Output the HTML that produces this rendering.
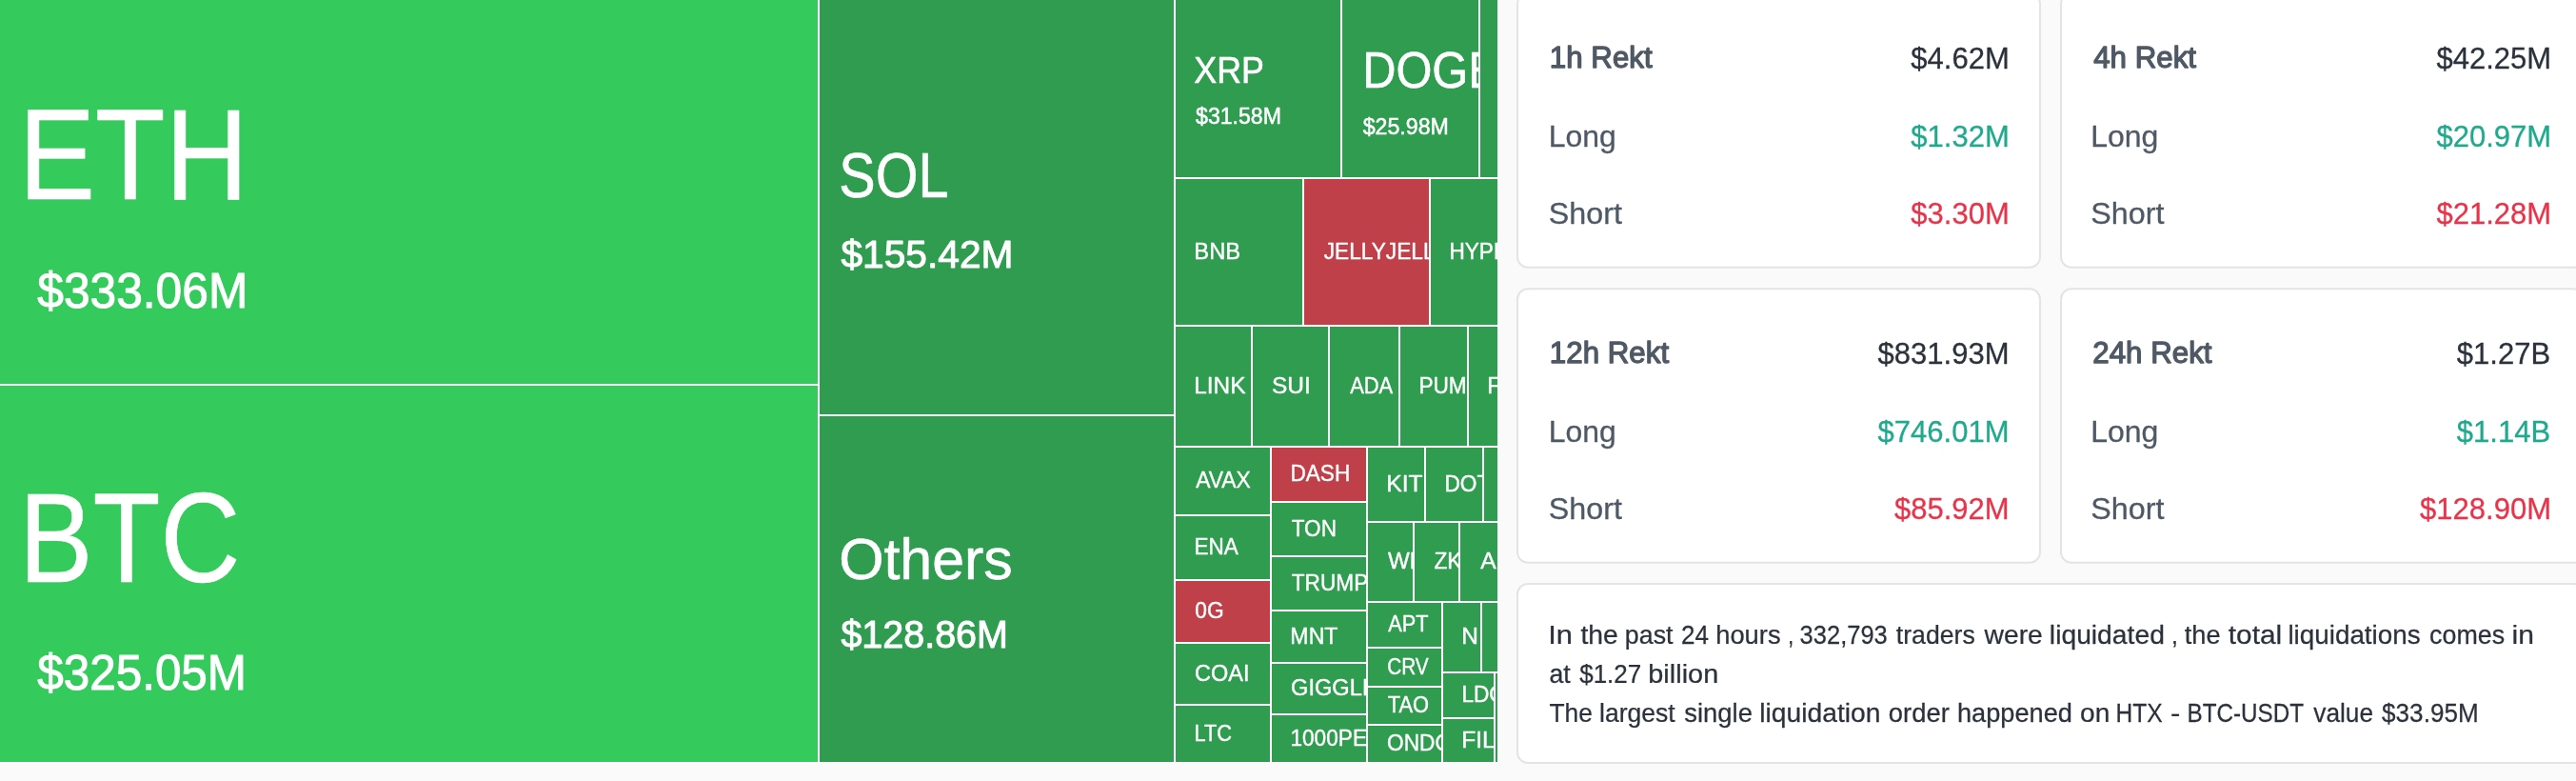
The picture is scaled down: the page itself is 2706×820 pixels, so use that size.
<!DOCTYPE html>
<html><head><meta charset="utf-8"><style>
html,body{margin:0;padding:0;background:#fafafa;width:2706px;height:820px;overflow:hidden}
svg text{font-family:"Liberation Sans",sans-serif}
</style></head><body>
<svg width="2706" height="820" viewBox="0 0 2706 820" style="display:block;will-change:transform;font-family:'Liberation Sans',sans-serif">
<rect x="0" y="0" width="2706" height="820" fill="#fafafa"/>
<rect x="0" y="0" width="1573" height="801" fill="#fff"/>
<svg x="0" y="0" width="859" height="403" viewBox="0 0 859 403" overflow="hidden"><rect x="0" y="0" width="859" height="403" fill="#34cb5c"/><text transform="translate(19.66,208.60) scale(0.8934,1)" font-size="134.93" fill="#fff" stroke="#fff" stroke-width="0.60" stroke-linejoin="round">ETH</text><text transform="translate(39.30,323.00) scale(0.9447,1)" font-size="52.61" fill="#fff" stroke="#fff" stroke-width="1.00" stroke-linejoin="round">$333.06M</text></svg>
<svg x="0" y="405" width="859" height="395" viewBox="0 405 859 395" overflow="hidden"><rect x="0" y="405" width="859" height="395" fill="#34cb5c"/><text transform="translate(20.01,610.60) scale(0.8732,1)" font-size="133.04" fill="#fff" stroke="#fff" stroke-width="0.60" stroke-linejoin="round">BTC</text><text transform="translate(39.31,723.70) scale(0.9602,1)" font-size="51.45" fill="#fff" stroke="#fff" stroke-width="1.00" stroke-linejoin="round">$325.05M</text></svg>
<svg x="861" y="0" width="372" height="435" viewBox="861 0 372 435" overflow="hidden"><rect x="861" y="0" width="372" height="435" fill="#2f9c50"/><text transform="translate(881.32,206.90) scale(0.8728,1)" font-size="65.94" fill="#fff" stroke="#fff" stroke-width="0.60" stroke-linejoin="round">SOL</text><text transform="translate(883.39,281.20) scale(0.9862,1)" font-size="41.30" fill="#fff" stroke="#fff" stroke-width="1.00" stroke-linejoin="round">$155.42M</text></svg>
<svg x="861" y="437" width="372" height="363" viewBox="861 437 372 363" overflow="hidden"><rect x="861" y="437" width="372" height="363" fill="#2f9c50"/><text transform="translate(881.16,608.30) scale(0.9898,1)" font-size="61.45" fill="#fff" stroke="#fff" stroke-width="0.60" stroke-linejoin="round">Others</text><text transform="translate(883.41,680.40) scale(0.9832,1)" font-size="40.14" fill="#fff" stroke="#fff" stroke-width="1.00" stroke-linejoin="round">$128.86M</text></svg>
<svg x="1235" y="0" width="173" height="186" viewBox="1235 0 173 186" overflow="hidden"><rect x="1235" y="0" width="173" height="186" fill="#2f9c50"/><text transform="translate(1254.32,86.60) scale(0.9158,1)" font-size="39.13" fill="#fff" stroke="#fff" stroke-width="0.60" stroke-linejoin="round">XRP</text><text transform="translate(1256.02,130.25) scale(0.9732,1)" font-size="23.77" fill="#fff" stroke="#fff" stroke-width="0.50" stroke-linejoin="round">$31.58M</text></svg>
<svg x="1410" y="0" width="143" height="186" viewBox="1410 0 143 186" overflow="hidden"><rect x="1410" y="0" width="143" height="186" fill="#2f9c50"/><text transform="translate(1431.20,91.80) scale(0.9000,1)" font-size="54.20" fill="#fff" stroke="#fff" stroke-width="0.60" stroke-linejoin="round">DOGE</text><text transform="translate(1431.72,141.15) scale(0.9695,1)" font-size="23.91" fill="#fff" stroke="#fff" stroke-width="0.50" stroke-linejoin="round">$25.98M</text></svg>
<svg x="1555" y="0" width="18" height="186" viewBox="1555 0 18 186" overflow="hidden"><rect x="1555" y="0" width="18" height="186" fill="#2f9c50"/></svg>
<svg x="1235" y="188" width="133" height="153" viewBox="1235 188 133 153" overflow="hidden"><rect x="1235" y="188" width="133" height="153" fill="#2f9c50"/><text transform="translate(1254.30,271.90) scale(1.0076,1)" font-size="23.62" fill="#fff" stroke="#fff" stroke-width="0.40" stroke-linejoin="round">BNB</text></svg>
<svg x="1370" y="188" width="131" height="153" viewBox="1370 188 131 153" overflow="hidden"><rect x="1370" y="188" width="131" height="153" fill="#bf4049"/><text transform="translate(1390.75,271.90) scale(0.9600,1)" font-size="23.62" fill="#fff" stroke="#fff" stroke-width="0.40" stroke-linejoin="round">JELLYJELLY</text></svg>
<svg x="1503" y="188" width="70" height="153" viewBox="1503 188 70 153" overflow="hidden"><rect x="1503" y="188" width="70" height="153" fill="#2f9c50"/><text transform="translate(1522.39,271.90) scale(0.9600,1)" font-size="23.62" fill="#fff" stroke="#fff" stroke-width="0.40" stroke-linejoin="round">HYPE</text></svg>
<svg x="1235" y="343" width="79" height="125" viewBox="1235 343 79 125" overflow="hidden"><rect x="1235" y="343" width="79" height="125" fill="#2f9c50"/><text transform="translate(1254.25,412.90) scale(1.0315,1)" font-size="23.62" fill="#fff" stroke="#fff" stroke-width="0.40" stroke-linejoin="round">LINK</text></svg>
<svg x="1316" y="343" width="79" height="125" viewBox="1316 343 79 125" overflow="hidden"><rect x="1316" y="343" width="79" height="125" fill="#2f9c50"/><text transform="translate(1335.97,412.90) scale(1.0375,1)" font-size="23.62" fill="#fff" stroke="#fff" stroke-width="0.40" stroke-linejoin="round">SUI</text></svg>
<svg x="1397" y="343" width="72" height="125" viewBox="1397 343 72 125" overflow="hidden"><rect x="1397" y="343" width="72" height="125" fill="#2f9c50"/><text transform="translate(1418.20,412.90) scale(0.9272,1)" font-size="23.62" fill="#fff" stroke="#fff" stroke-width="0.40" stroke-linejoin="round">ADA</text></svg>
<svg x="1471" y="343" width="70" height="125" viewBox="1471 343 70 125" overflow="hidden"><rect x="1471" y="343" width="70" height="125" fill="#2f9c50"/><text transform="translate(1490.39,412.90) scale(0.9600,1)" font-size="23.62" fill="#fff" stroke="#fff" stroke-width="0.40" stroke-linejoin="round">PUMP</text></svg>
<svg x="1543" y="343" width="30" height="125" viewBox="1543 343 30 125" overflow="hidden"><rect x="1543" y="343" width="30" height="125" fill="#2f9c50"/><text transform="translate(1562.33,412.90) scale(0.9912,1)" font-size="23.62" fill="#fff" stroke="#fff" stroke-width="0.40" stroke-linejoin="round">FARTCOIN</text></svg>
<svg x="1235" y="470" width="99" height="70" viewBox="1235 470 99 70" overflow="hidden"><rect x="1235" y="470" width="99" height="70" fill="#2f9c50"/><text transform="translate(1256.20,512.40) scale(0.9690,1)" font-size="23.62" fill="#fff" stroke="#fff" stroke-width="0.40" stroke-linejoin="round">AVAX</text></svg>
<svg x="1235" y="542" width="99" height="66" viewBox="1235 542 99 66" overflow="hidden"><rect x="1235" y="542" width="99" height="66" fill="#2f9c50"/><text transform="translate(1254.40,582.40) scale(0.9541,1)" font-size="23.62" fill="#fff" stroke="#fff" stroke-width="0.40" stroke-linejoin="round">ENA</text></svg>
<svg x="1235" y="610" width="99" height="64" viewBox="1235 610 99 64" overflow="hidden"><rect x="1235" y="610" width="99" height="64" fill="#bf4049"/><text transform="translate(1255.29,649.40) scale(0.9646,1)" font-size="23.62" fill="#fff" stroke="#fff" stroke-width="0.40" stroke-linejoin="round">0G</text></svg>
<svg x="1235" y="676" width="99" height="63" viewBox="1235 676 99 63" overflow="hidden"><rect x="1235" y="676" width="99" height="63" fill="#2f9c50"/><text transform="translate(1255.02,714.90) scale(0.9957,1)" font-size="23.62" fill="#fff" stroke="#fff" stroke-width="0.40" stroke-linejoin="round">COAI</text></svg>
<svg x="1235" y="741" width="99" height="59" viewBox="1235 741 99 59" overflow="hidden"><rect x="1235" y="741" width="99" height="59" fill="#2f9c50"/><text transform="translate(1254.46,777.90) scale(0.9218,1)" font-size="23.62" fill="#fff" stroke="#fff" stroke-width="0.40" stroke-linejoin="round">LTC</text></svg>
<svg x="1336" y="470" width="99" height="56" viewBox="1336 470 99 56" overflow="hidden"><rect x="1336" y="470" width="99" height="56" fill="#bf4049"/><text transform="translate(1355.39,505.40) scale(0.9581,1)" font-size="23.62" fill="#fff" stroke="#fff" stroke-width="0.40" stroke-linejoin="round">DASH</text></svg>
<svg x="1336" y="528" width="99" height="55" viewBox="1336 528 99 55" overflow="hidden"><rect x="1336" y="528" width="99" height="55" fill="#2f9c50"/><text transform="translate(1356.75,562.90) scale(0.9551,1)" font-size="23.62" fill="#fff" stroke="#fff" stroke-width="0.40" stroke-linejoin="round">TON</text></svg>
<svg x="1336" y="585" width="99" height="55" viewBox="1336 585 99 55" overflow="hidden"><rect x="1336" y="585" width="99" height="55" fill="#2f9c50"/><text transform="translate(1356.75,619.90) scale(0.9600,1)" font-size="23.62" fill="#fff" stroke="#fff" stroke-width="0.40" stroke-linejoin="round">TRUMP</text></svg>
<svg x="1336" y="642" width="99" height="53" viewBox="1336 642 99 53" overflow="hidden"><rect x="1336" y="642" width="99" height="53" fill="#2f9c50"/><text transform="translate(1355.35,675.90) scale(0.9802,1)" font-size="23.62" fill="#fff" stroke="#fff" stroke-width="0.40" stroke-linejoin="round">MNT</text></svg>
<svg x="1336" y="697" width="99" height="52" viewBox="1336 697 99 52" overflow="hidden"><rect x="1336" y="697" width="99" height="52" fill="#2f9c50"/><text transform="translate(1356.02,730.40) scale(1.0017,1)" font-size="23.62" fill="#fff" stroke="#fff" stroke-width="0.40" stroke-linejoin="round">GIGGLE</text></svg>
<svg x="1336" y="751" width="99" height="49" viewBox="1336 751 99 49" overflow="hidden"><rect x="1336" y="751" width="99" height="49" fill="#2f9c50"/><text transform="translate(1355.39,782.90) scale(0.9600,1)" font-size="23.62" fill="#fff" stroke="#fff" stroke-width="0.40" stroke-linejoin="round">1000PEPE</text></svg>
<svg x="1437" y="470" width="59" height="77" viewBox="1437 470 59 77" overflow="hidden"><rect x="1437" y="470" width="59" height="77" fill="#2f9c50"/><text transform="translate(1456.23,515.90) scale(1.0433,1)" font-size="23.62" fill="#fff" stroke="#fff" stroke-width="0.40" stroke-linejoin="round">KIT</text></svg>
<svg x="1498" y="470" width="59" height="77" viewBox="1498 470 59 77" overflow="hidden"><rect x="1498" y="470" width="59" height="77" fill="#2f9c50"/><text transform="translate(1517.39,515.90) scale(0.9600,1)" font-size="23.62" fill="#fff" stroke="#fff" stroke-width="0.40" stroke-linejoin="round">DOT</text></svg>
<svg x="1559" y="470" width="14" height="77" viewBox="1559 470 14 77" overflow="hidden"><rect x="1559" y="470" width="14" height="77" fill="#2f9c50"/></svg>
<svg x="1437" y="549" width="47" height="82" viewBox="1437 549 47 82" overflow="hidden"><rect x="1437" y="549" width="47" height="82" fill="#2f9c50"/><text transform="translate(1457.96,597.40) scale(1.0225,1)" font-size="23.62" fill="#fff" stroke="#fff" stroke-width="0.40" stroke-linejoin="round">WLFI</text></svg>
<svg x="1486" y="549" width="46" height="82" viewBox="1486 549 46 82" overflow="hidden"><rect x="1486" y="549" width="46" height="82" fill="#2f9c50"/><text transform="translate(1506.52,597.40) scale(0.9600,1)" font-size="23.62" fill="#fff" stroke="#fff" stroke-width="0.40" stroke-linejoin="round">ZKC</text></svg>
<svg x="1534" y="549" width="39" height="82" viewBox="1534 549 39 82" overflow="hidden"><rect x="1534" y="549" width="39" height="82" fill="#2f9c50"/><text transform="translate(1555.20,597.40) scale(1.0433,1)" font-size="23.62" fill="#fff" stroke="#fff" stroke-width="0.40" stroke-linejoin="round">AIA</text></svg>
<svg x="1437" y="633" width="77" height="46" viewBox="1437 633 77 46" overflow="hidden"><rect x="1437" y="633" width="77" height="46" fill="#2f9c50"/><text transform="translate(1458.20,663.40) scale(0.9216,1)" font-size="23.62" fill="#fff" stroke="#fff" stroke-width="0.40" stroke-linejoin="round">APT</text></svg>
<svg x="1437" y="681" width="77" height="39" viewBox="1437 681 77 39" overflow="hidden"><rect x="1437" y="681" width="77" height="39" fill="#2f9c50"/><text transform="translate(1457.16,707.90) scale(0.8798,1)" font-size="23.62" fill="#fff" stroke="#fff" stroke-width="0.40" stroke-linejoin="round">CRV</text></svg>
<svg x="1437" y="722" width="77" height="38" viewBox="1437 722 77 38" overflow="hidden"><rect x="1437" y="722" width="77" height="38" fill="#2f9c50"/><text transform="translate(1457.76,748.40) scale(0.9264,1)" font-size="23.62" fill="#fff" stroke="#fff" stroke-width="0.40" stroke-linejoin="round">TAO</text></svg>
<svg x="1437" y="762" width="77" height="38" viewBox="1437 762 77 38" overflow="hidden"><rect x="1437" y="762" width="77" height="38" fill="#2f9c50"/><text transform="translate(1457.07,788.40) scale(0.9600,1)" font-size="23.62" fill="#fff" stroke="#fff" stroke-width="0.40" stroke-linejoin="round">ONDO</text></svg>
<svg x="1516" y="633" width="39" height="72" viewBox="1516 633 39 72" overflow="hidden"><rect x="1516" y="633" width="39" height="72" fill="#2f9c50"/><text transform="translate(1535.24,676.40) scale(1.0356,1)" font-size="23.62" fill="#fff" stroke="#fff" stroke-width="0.40" stroke-linejoin="round">N</text></svg>
<svg x="1557" y="633" width="16" height="72" viewBox="1557 633 16 72" overflow="hidden"><rect x="1557" y="633" width="16" height="72" fill="#2f9c50"/></svg>
<svg x="1516" y="707" width="53" height="46" viewBox="1516 707 53 46" overflow="hidden"><rect x="1516" y="707" width="53" height="46" fill="#2f9c50"/><text transform="translate(1535.39,737.40) scale(0.9600,1)" font-size="23.62" fill="#fff" stroke="#fff" stroke-width="0.40" stroke-linejoin="round">LDO</text></svg>
<svg x="1516" y="755" width="53" height="45" viewBox="1516 755 53 45" overflow="hidden"><rect x="1516" y="755" width="53" height="45" fill="#2f9c50"/><text transform="translate(1535.23,784.90) scale(1.0433,1)" font-size="23.62" fill="#fff" stroke="#fff" stroke-width="0.40" stroke-linejoin="round">FIL</text></svg>
<svg x="1571" y="707" width="2" height="93" viewBox="1571 707 2 93" overflow="hidden"><rect x="1571" y="707" width="2" height="93" fill="#2f9c50"/></svg>
<rect x="1594.0" y="-6.7" width="549" height="287.5" rx="11" ry="11" fill="#fff" stroke="#e4e4e4" stroke-width="2"/>
<text transform="translate(1627.85,71.25) scale(1.0048,1)" font-size="31.16" fill="#4f5965" stroke="#4f5965" stroke-width="1.30" stroke-linejoin="round">1h Rekt</text>
<text transform="translate(1626.79,153.75) scale(0.9937,1)" font-size="32.17" fill="#4f5965" stroke="#4f5965" stroke-width="0.30" stroke-linejoin="round">Long</text>
<text transform="translate(1626.84,234.95) scale(1.0262,1)" font-size="31.45" fill="#4f5965" stroke="#4f5965" stroke-width="0.30" stroke-linejoin="round">Short</text>
<text transform="translate(2007.34,72.15) scale(0.9863,1)" font-size="31.45" fill="#2b323b" stroke="#2b323b" stroke-width="0.30" stroke-linejoin="round">$4.62M</text>
<text transform="translate(2007.34,153.75) scale(0.9863,1)" font-size="31.45" fill="#1fa98d" stroke="#1fa98d" stroke-width="0.30" stroke-linejoin="round">$1.32M</text>
<text transform="translate(2007.34,235.45) scale(0.9863,1)" font-size="31.45" fill="#e8344a" stroke="#e8344a" stroke-width="0.30" stroke-linejoin="round">$3.30M</text>
<rect x="2165.0" y="-6.7" width="549" height="287.5" rx="11" ry="11" fill="#fff" stroke="#e4e4e4" stroke-width="2"/>
<text transform="translate(2199.22,71.25) scale(1.0048,1)" font-size="31.16" fill="#4f5965" stroke="#4f5965" stroke-width="1.30" stroke-linejoin="round">4h Rekt</text>
<text transform="translate(2196.29,153.75) scale(0.9937,1)" font-size="32.17" fill="#4f5965" stroke="#4f5965" stroke-width="0.30" stroke-linejoin="round">Long</text>
<text transform="translate(2196.34,234.95) scale(1.0262,1)" font-size="31.45" fill="#4f5965" stroke="#4f5965" stroke-width="0.30" stroke-linejoin="round">Short</text>
<text transform="translate(2559.47,72.15) scale(0.9863,1)" font-size="31.45" fill="#2b323b" stroke="#2b323b" stroke-width="0.30" stroke-linejoin="round">$42.25M</text>
<text transform="translate(2559.47,153.75) scale(0.9863,1)" font-size="31.45" fill="#1fa98d" stroke="#1fa98d" stroke-width="0.30" stroke-linejoin="round">$20.97M</text>
<text transform="translate(2559.47,235.45) scale(0.9863,1)" font-size="31.45" fill="#e8344a" stroke="#e8344a" stroke-width="0.30" stroke-linejoin="round">$21.28M</text>
<rect x="1594.0" y="303.3" width="549" height="287.5" rx="11" ry="11" fill="#fff" stroke="#e4e4e4" stroke-width="2"/>
<text transform="translate(1627.85,381.25) scale(1.0048,1)" font-size="31.16" fill="#4f5965" stroke="#4f5965" stroke-width="1.30" stroke-linejoin="round">12h Rekt</text>
<text transform="translate(1626.79,463.75) scale(0.9937,1)" font-size="32.17" fill="#4f5965" stroke="#4f5965" stroke-width="0.30" stroke-linejoin="round">Long</text>
<text transform="translate(1626.84,544.95) scale(1.0262,1)" font-size="31.45" fill="#4f5965" stroke="#4f5965" stroke-width="0.30" stroke-linejoin="round">Short</text>
<text transform="translate(1972.60,382.15) scale(0.9863,1)" font-size="31.45" fill="#2b323b" stroke="#2b323b" stroke-width="0.30" stroke-linejoin="round">$831.93M</text>
<text transform="translate(1972.60,463.75) scale(0.9863,1)" font-size="31.45" fill="#1fa98d" stroke="#1fa98d" stroke-width="0.30" stroke-linejoin="round">$746.01M</text>
<text transform="translate(1989.97,545.45) scale(0.9863,1)" font-size="31.45" fill="#e8344a" stroke="#e8344a" stroke-width="0.30" stroke-linejoin="round">$85.92M</text>
<rect x="2165.0" y="303.3" width="549" height="287.5" rx="11" ry="11" fill="#fff" stroke="#e4e4e4" stroke-width="2"/>
<text transform="translate(2198.28,381.25) scale(1.0048,1)" font-size="31.16" fill="#4f5965" stroke="#4f5965" stroke-width="1.30" stroke-linejoin="round">24h Rekt</text>
<text transform="translate(2196.29,463.75) scale(0.9937,1)" font-size="32.17" fill="#4f5965" stroke="#4f5965" stroke-width="0.30" stroke-linejoin="round">Long</text>
<text transform="translate(2196.34,544.95) scale(1.0262,1)" font-size="31.45" fill="#4f5965" stroke="#4f5965" stroke-width="0.30" stroke-linejoin="round">Short</text>
<text transform="translate(2580.87,382.15) scale(0.9863,1)" font-size="31.45" fill="#2b323b" stroke="#2b323b" stroke-width="0.30" stroke-linejoin="round">$1.27B</text>
<text transform="translate(2580.87,463.75) scale(0.9863,1)" font-size="31.45" fill="#1fa98d" stroke="#1fa98d" stroke-width="0.30" stroke-linejoin="round">$1.14B</text>
<text transform="translate(2542.10,545.45) scale(0.9863,1)" font-size="31.45" fill="#e8344a" stroke="#e8344a" stroke-width="0.30" stroke-linejoin="round">$128.90M</text>
<rect x="1594" y="613" width="1120" height="188" rx="11" ry="11" fill="#fff" stroke="#e4e4e4" stroke-width="2"/>
<text transform="translate(1626.24,675.67) scale(1.1500,1)" font-size="26.88" fill="#2b323b" stroke="#2b323b" stroke-width="0.25" stroke-linejoin="round">In</text>
<text transform="translate(1660.46,675.67) scale(1.0542,1)" font-size="26.88" fill="#2b323b" stroke="#2b323b" stroke-width="0.25" stroke-linejoin="round">the</text>
<text transform="translate(1706.85,675.67) scale(0.9976,1)" font-size="26.88" fill="#2b323b" stroke="#2b323b" stroke-width="0.25" stroke-linejoin="round">past</text>
<text transform="translate(1766.12,675.67) scale(0.9692,1)" font-size="26.88" fill="#2b323b" stroke="#2b323b" stroke-width="0.25" stroke-linejoin="round">24</text>
<text transform="translate(1802.21,675.67) scale(1.0170,1)" font-size="26.88" fill="#2b323b" stroke="#2b323b" stroke-width="0.25" stroke-linejoin="round">hours</text>
<text transform="translate(1878.19,675.67) scale(0.8000,1)" font-size="26.88" fill="#2b323b" stroke="#2b323b" stroke-width="0.25" stroke-linejoin="round">,</text>
<text transform="translate(1890.61,675.67) scale(0.9482,1)" font-size="26.88" fill="#2b323b" stroke="#2b323b" stroke-width="0.25" stroke-linejoin="round">332,793</text>
<text transform="translate(1991.79,675.67) scale(0.9919,1)" font-size="26.88" fill="#2b323b" stroke="#2b323b" stroke-width="0.25" stroke-linejoin="round">traders</text>
<text transform="translate(2084.53,675.67) scale(1.0526,1)" font-size="26.88" fill="#2b323b" stroke="#2b323b" stroke-width="0.25" stroke-linejoin="round">were</text>
<text transform="translate(2152.85,675.67) scale(1.0515,1)" font-size="26.88" fill="#2b323b" stroke="#2b323b" stroke-width="0.25" stroke-linejoin="round">liquidated</text>
<text transform="translate(2281.00,675.67) scale(0.9176,1)" font-size="26.88" fill="#2b323b" stroke="#2b323b" stroke-width="0.25" stroke-linejoin="round">,</text>
<text transform="translate(2294.68,675.67) scale(1.0128,1)" font-size="26.88" fill="#2b323b" stroke="#2b323b" stroke-width="0.25" stroke-linejoin="round">the</text>
<text transform="translate(2340.83,675.67) scale(1.1092,1)" font-size="26.88" fill="#2b323b" stroke="#2b323b" stroke-width="0.25" stroke-linejoin="round">total</text>
<text transform="translate(2403.38,675.67) scale(1.0359,1)" font-size="26.88" fill="#2b323b" stroke="#2b323b" stroke-width="0.25" stroke-linejoin="round">liquidations</text>
<text transform="translate(2552.05,675.67) scale(0.9988,1)" font-size="26.88" fill="#2b323b" stroke="#2b323b" stroke-width="0.25" stroke-linejoin="round">comes</text>
<text transform="translate(2638.62,675.67) scale(1.1183,1)" font-size="26.88" fill="#2b323b" stroke="#2b323b" stroke-width="0.25" stroke-linejoin="round">in</text>
<text transform="translate(1627.46,716.58) scale(0.9942,1)" font-size="26.88" fill="#2b323b" stroke="#2b323b" stroke-width="0.25" stroke-linejoin="round">at</text>
<text transform="translate(1659.16,716.58) scale(0.9687,1)" font-size="26.88" fill="#2b323b" stroke="#2b323b" stroke-width="0.25" stroke-linejoin="round">$1.27</text>
<text transform="translate(1731.30,716.58) scale(1.0753,1)" font-size="26.88" fill="#2b323b" stroke="#2b323b" stroke-width="0.25" stroke-linejoin="round">billion</text>
<text transform="translate(1627.50,757.77) scale(0.9817,1)" font-size="26.88" fill="#2b323b" stroke="#2b323b" stroke-width="0.25" stroke-linejoin="round">The</text>
<text transform="translate(1680.07,757.77) scale(0.9879,1)" font-size="26.88" fill="#2b323b" stroke="#2b323b" stroke-width="0.25" stroke-linejoin="round">largest</text>
<text transform="translate(1769.20,757.77) scale(1.0216,1)" font-size="26.88" fill="#2b323b" stroke="#2b323b" stroke-width="0.25" stroke-linejoin="round">single</text>
<text transform="translate(1848.25,757.77) scale(1.0515,1)" font-size="26.88" fill="#2b323b" stroke="#2b323b" stroke-width="0.25" stroke-linejoin="round">liquidation</text>
<text transform="translate(1983.83,757.77) scale(1.0206,1)" font-size="26.88" fill="#2b323b" stroke="#2b323b" stroke-width="0.25" stroke-linejoin="round">order</text>
<text transform="translate(2055.92,757.77) scale(1.0125,1)" font-size="26.88" fill="#2b323b" stroke="#2b323b" stroke-width="0.25" stroke-linejoin="round">happened</text>
<text transform="translate(2185.10,757.77) scale(1.0466,1)" font-size="26.88" fill="#2b323b" stroke="#2b323b" stroke-width="0.25" stroke-linejoin="round">on</text>
<text transform="translate(2222.56,757.77) scale(0.9146,1)" font-size="26.88" fill="#2b323b" stroke="#2b323b" stroke-width="0.25" stroke-linejoin="round">HTX</text>
<text transform="translate(2279.89,757.77) scale(1.1500,1)" font-size="26.88" fill="#2b323b" stroke="#2b323b" stroke-width="0.25" stroke-linejoin="round">-</text>
<text transform="translate(2297.49,757.77) scale(0.9016,1)" font-size="26.88" fill="#2b323b" stroke="#2b323b" stroke-width="0.25" stroke-linejoin="round">BTC-USDT</text>
<text transform="translate(2430.26,757.77) scale(0.9772,1)" font-size="26.88" fill="#2b323b" stroke="#2b323b" stroke-width="0.25" stroke-linejoin="round">value</text>
<text transform="translate(2502.06,757.77) scale(0.9716,1)" font-size="26.88" fill="#2b323b" stroke="#2b323b" stroke-width="0.25" stroke-linejoin="round">$33.95M</text>
</svg>
</body></html>
